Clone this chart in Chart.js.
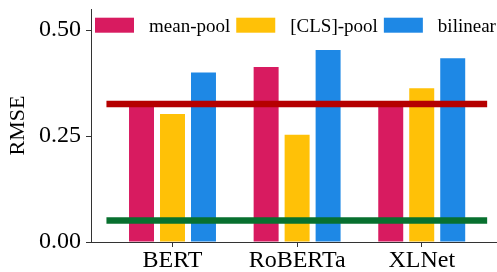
<!DOCTYPE html>
<html>
<head>
<meta charset="utf-8">
<script src="https://cdn.jsdelivr.net/npm/chart.js@4"></script>
<style>
  html, body { margin: 0; padding: 0; background: #ffffff; }
  #wrap { width: 497px; height: 272px; }
</style>
</head>
<body>
<div id="wrap"><canvas id="c" width="497" height="272"></canvas></div>
<script>
// ---- data ----
const categories = ['BERT', 'RoBERTa', 'XLNet'];
const seriesNames = ['mean-pool', '[CLS]-pool', 'bilinear'];
const meanPool = [0.32, 0.413, 0.32];
const clsPool = [0.302, 0.253, 0.363];
const bilinear = [0.40, 0.453, 0.434];
const refHigh = 0.326;   // dark red reference line
const refLow = 0.051;    // green reference line
const refSpan = [-0.53, 2.525]; // extent of the reference segments, in category units (BERT = 0)
const yTicks = [0, 0.25, 0.5];
const yTickLabels = ['0.00', '0.25', '0.50'];

// ---- styling ----
const colors = ['#D81B60', '#FFC107', '#1E88E5'];
const SERIF = "'Liberation Serif', 'Times New Roman', serif";
const AXIS = '#333333';
const X_MIN = -0.654, X_MAX = 2.604;

const legendPlugin = {
  id: 'insideLegend',
  afterDatasetsDraw(chart) {
    const ctx = chart.ctx;
    const area = chart.chartArea;
    ctx.save();
    ctx.font = '19px ' + SERIF;
    ctx.textBaseline = 'alphabetic';
    ctx.textAlign = 'left';
    let x = area.left + 4;
    chart.data.datasets.forEach(ds => {
      if (ds.type !== 'bar') return;
      ctx.fillStyle = ds.backgroundColor;
      ctx.fillRect(x, 17.7, 39, 15);
      ctx.fillStyle = '#000000';
      const tx = x + 54;
      ctx.fillText(ds.label, tx, 31.5);
      x = tx + ctx.measureText(ds.label).width + 6;
    });
    ctx.restore();
  }
};

const barSets = [meanPool, clsPool, bilinear].map((vals, i) => ({
  type: 'bar',
  indexAxis: 'x',
  label: seriesNames[i],
  data: vals,
  backgroundColor: colors[i],
  borderWidth: 0,
  categoryPercentage: 0.746,
  barPercentage: 0.806,
  order: 2
}));

const lineSet = (val, color) => ({
  type: 'line',
  indexAxis: 'x',
  label: '',
  xAxisID: 'x2',
  data: [{ x: refSpan[0], y: val }, { x: refSpan[1], y: val }],
  borderColor: color,
  borderWidth: 6.5,
  borderCapStyle: 'butt',
  pointRadius: 0,
  fill: false,
  order: 0
});

new Chart(document.getElementById('c'), {
  data: {
    labels: categories,
    datasets: [...barSets, lineSet(refHigh, '#B50000'), lineSet(refLow, '#08702F')]
  },
  plugins: [legendPlugin],
  options: {
    indexAxis: 'y',
    responsive: false,
    devicePixelRatio: 1,
    animation: false,
    layout: { padding: { top: 9, right: 0, bottom: 0, left: 0 } },
    plugins: { legend: { display: false }, tooltip: { enabled: false } },
    scales: {
      x: {
        type: 'category',
        axis: 'x',
        position: 'bottom',
        offset: true,
        afterBuildTicks(scale) {
          scale._startValue = X_MIN;
          scale._valueRange = X_MAX - X_MIN;
        },
        afterFit(scale) {
          scale.height = 30;
          scale.paddingLeft = 0; scale.paddingRight = 0;
        },
        grid: { display: true, drawOnChartArea: false, offset: false, tickLength: 5, color: AXIS, tickWidth: 1 },
        border: { display: true, color: AXIS, width: 1 },
        ticks: { color: '#000000', font: { family: SERIF, size: 24 }, padding: -1, maxRotation: 0 }
      },
      x2: {
        type: 'linear',
        axis: 'x',
        display: false,
        min: X_MIN,
        max: X_MAX
      },
      y: {
        type: 'linear',
        axis: 'y',
        position: 'left',
        min: 0,
        max: 0.55,
        afterBuildTicks(scale) { scale.ticks = yTicks.map(v => ({ value: v })); },
        afterFit(scale) {
          scale.width = 91;
          scale.paddingTop = 0; scale.paddingBottom = 0;
        },
        grid: { display: true, drawOnChartArea: false, tickLength: 5, color: AXIS, tickWidth: 1 },
        border: { display: true, color: AXIS, width: 1 },
        ticks: {
          color: '#000000',
          font: { family: SERIF, size: 24 },
          padding: 5,
          callback: (v) => yTickLabels[yTicks.indexOf(v)] ?? ''
        },
        title: { display: true, text: 'RMSE', color: '#000000', font: { family: SERIF, size: 22 }, padding: { top: 5, bottom: 4 } }
      }
    }
  }
});
</script>
</body>
</html>
